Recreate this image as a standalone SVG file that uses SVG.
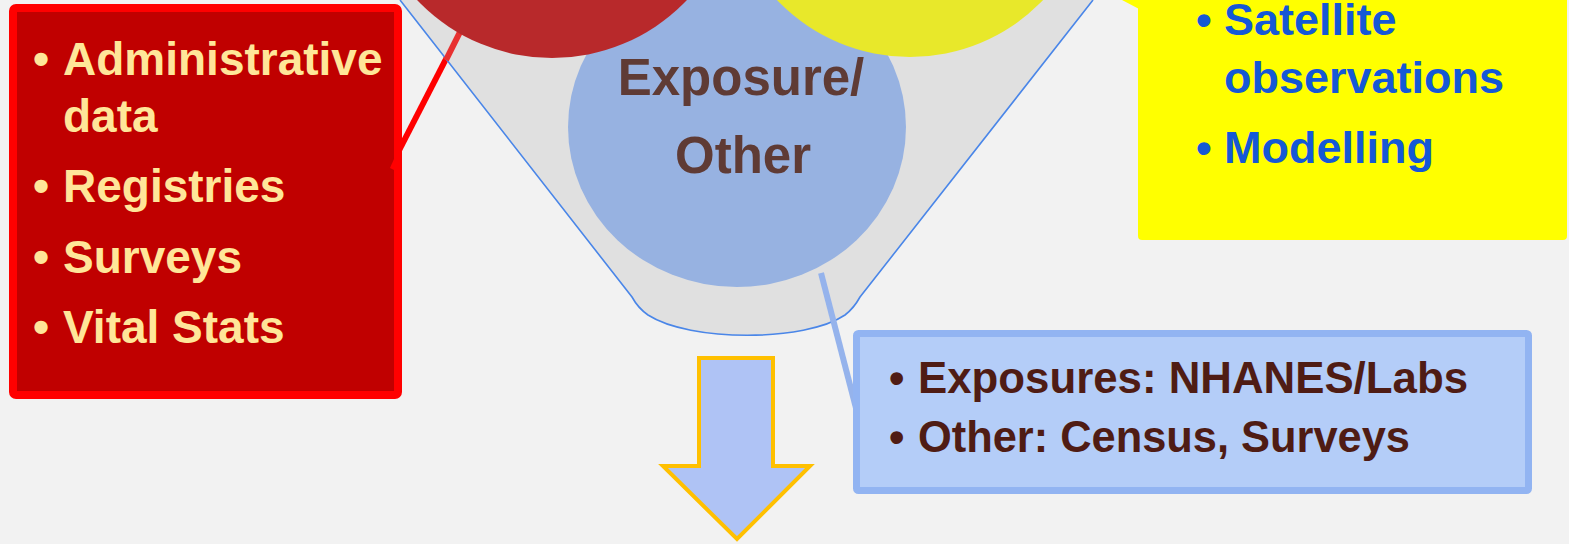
<svg xmlns="http://www.w3.org/2000/svg" width="1569" height="544" viewBox="0 0 1569 544">
<style>
  .t { font-family: "Liberation Sans", Arial, sans-serif; font-weight: bold; }
  .red { fill: #FFE699; font-size: 46px; }
  .yel { fill: #1558D6; font-size: 45px; }
  .blu { fill: #4F1C14; font-size: 44px; }
  .ctr { fill: #5F3B35; font-size: 51px; text-anchor: middle; }
</style>
<rect x="0" y="0" width="1569" height="544" fill="#F2F2F2"/>

<g id="connectors">
  <line x1="466" y1="20" x2="390" y2="168" stroke="#FF0000" stroke-width="6"/>
  <line x1="466" y1="20" x2="446" y2="60" stroke="#E83030" stroke-width="6"/>
</g>

<g id="funnel">
  <path d="M400,0 L632,297 Q638,308 648,315 C690,342 805,342 845,315 Q854,308 860,297 L1093,0" fill="#DEDEDE" fill-opacity="0.92" stroke="#4A86E8" stroke-width="1.6"/>
</g>

<g id="connectors-2">
  <line x1="466" y1="20" x2="446" y2="60" stroke="#E83030" stroke-width="6"/>
  <line x1="821" y1="273" x2="857" y2="412" stroke="#95B3EC" stroke-width="6"/>
</g>

<g id="node-exposure">
  <ellipse cx="737" cy="127" rx="169" ry="160" fill="#97B2E1"/>
  <text class="t ctr" x="741" y="95">Exposure/</text>
  <text class="t ctr" x="743" y="173">Other</text>
</g>

<g id="node-red-circle">
  <circle cx="552" cy="-128" r="186" fill="#B8292B"/>
</g>

<g id="node-yellow-circle">
  <circle cx="910" cy="-127" r="184" fill="#E8E82A"/>
</g>

<g id="node-red-callout">
  <rect x="13" y="8" width="385" height="387" rx="3" fill="#C00000" stroke="#FF0000" stroke-width="8"/>
  <polygon points="390,168 398,150 398,172" fill="#FF0000"/>
  <g class="t red">
    <text x="33" y="75">•</text><text x="63" y="75">Administrative</text>
    <text x="63" y="132">data</text>
    <text x="33" y="202">•</text><text x="63" y="202">Registries</text>
    <text x="33" y="273">•</text><text x="63" y="273">Surveys</text>
    <text x="33" y="343">•</text><text x="63" y="343">Vital Stats</text>
  </g>
</g>

<g id="node-yellow-callout">
  <polygon points="1122,0 1141,0 1141,10" fill="#FFFF00"/>
  <rect x="1138" y="-10" width="429" height="250" rx="4" fill="#FFFF00"/>
  <g class="t yel">
    <text x="1196" y="35">•</text><text x="1224" y="35">Satellite</text>
    <text x="1224" y="93">observations</text>
    <text x="1196" y="163">•</text><text x="1224" y="163">Modelling</text>
  </g>
</g>

<g id="node-blue-callout">
  <rect x="856.5" y="333.5" width="672" height="157" rx="2" fill="#B4CDF8" stroke="#92B4F2" stroke-width="7"/>
  <g class="t blu">
    <text x="889" y="393">•</text><text x="918" y="393" textLength="550" lengthAdjust="spacingAndGlyphs">Exposures: NHANES/Labs</text>
    <text x="889" y="452">•</text><text x="918" y="452" textLength="492" lengthAdjust="spacingAndGlyphs">Other: Census, Surveys</text>
  </g>
</g>

<g id="node-arrow">
  <polygon points="699,358 773,358 773,466 810,466 737,539 663,466 699,466" fill="#AFC3F5" stroke="#FFC000" stroke-width="4"/>
</g>
</svg>
